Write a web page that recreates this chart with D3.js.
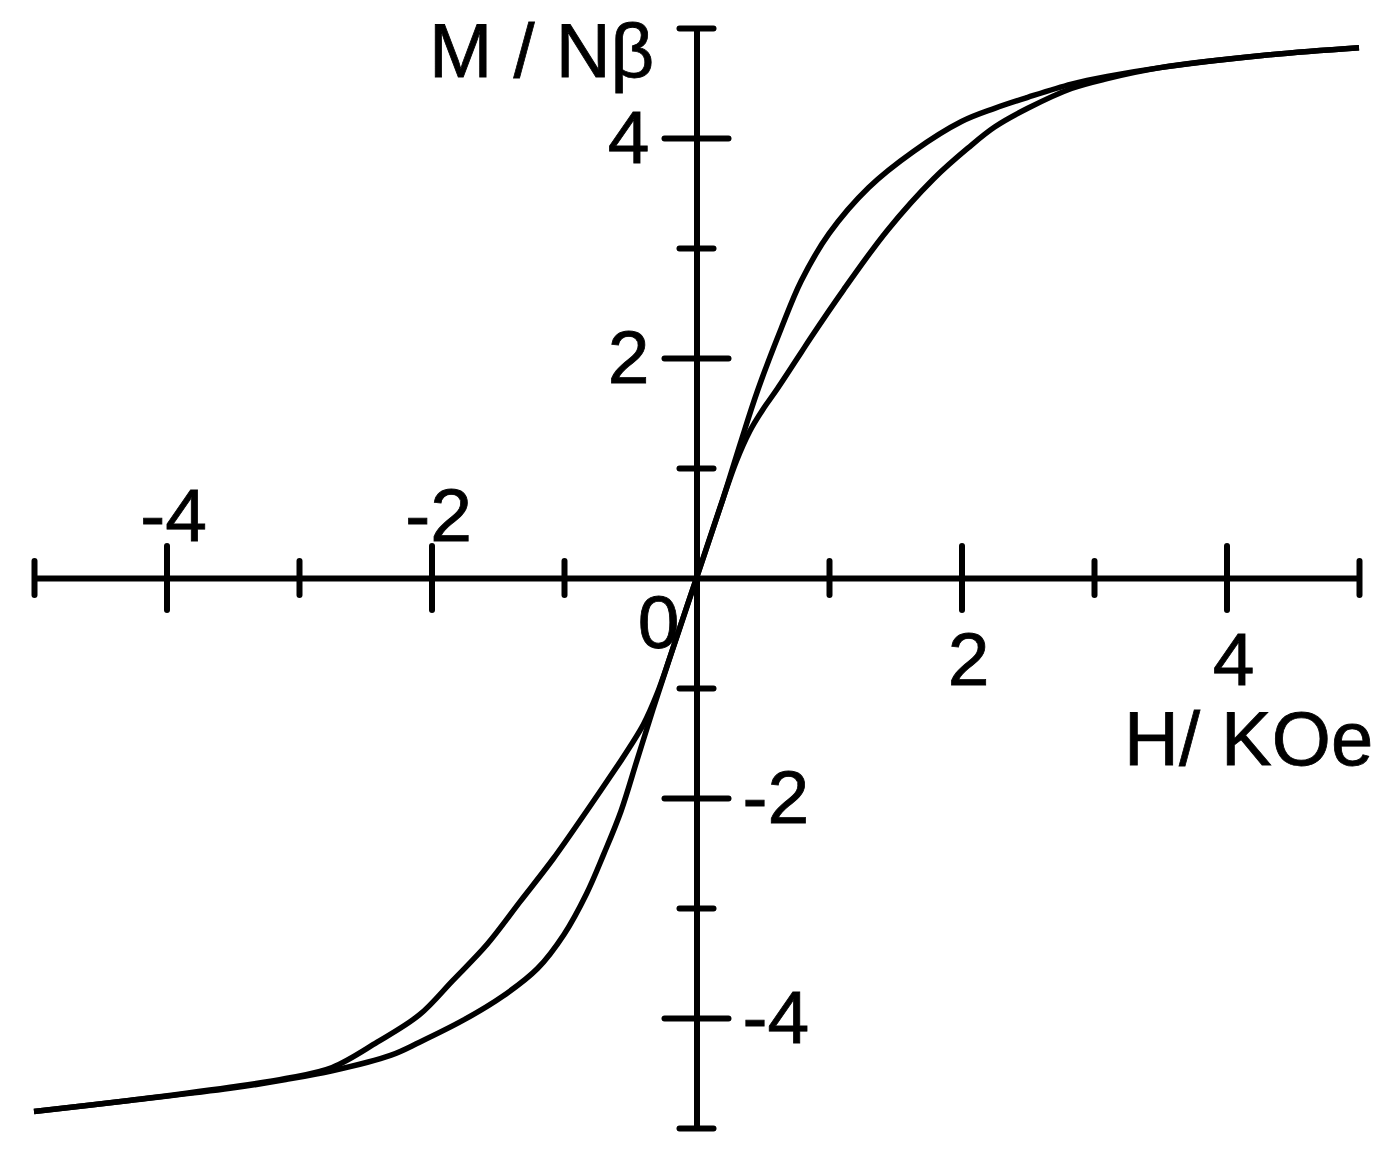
<!DOCTYPE html>
<html>
<head>
<meta charset="utf-8">
<script src="https://cdn.jsdelivr.net/npm/d3@7"></script>
<style>
  body { margin: 0; background: #fff; }
  text { font-family: "Liberation Sans", Arial, sans-serif; fill: #000; stroke: #000; stroke-width: 0.8; }
</style>
</head>
<body>
<div id="chart"></div>
<script>
// field H (kOe) and magnetisation M (N beta)
const steepH = [-5, -4.28, -3.52, -3.1, -2.75, -2.31, -2.09, -1.76, -1.46, -1.2, -1.0, -0.83, -0.7, -0.57, -0.45, -0.33, -0.2, 0,
                0.2, 0.33, 0.46, 0.64, 0.79, 1.0, 1.3, 1.64, 2.0, 2.25, 2.5, 2.83, 3.1, 3.5, 4.27, 5];
const steepM = [-4.85, -4.75, -4.64, -4.56, -4.48, -4.34, -4.22, -4.02, -3.8, -3.55, -3.24, -2.87, -2.51, -2.12, -1.66, -1.2, -0.72, 0,
                0.72, 1.22, 1.7, 2.27, 2.7, 3.13, 3.55, 3.88, 4.15, 4.27, 4.37, 4.49, 4.56, 4.64, 4.75, 4.82];

const softH = [-5, -4.28, -3.52, -3.1, -2.75, -2.41, -2.09, -1.84, -1.58, -1.33, -1.08, -0.83, -0.57, -0.5, -0.4, -0.3, -0.2, 0,
               0.2, 0.3, 0.4, 0.5, 0.61, 0.79, 0.86, 1.11, 1.44, 1.79, 2.05, 2.25, 2.5, 2.83, 3.1, 3.5, 4.27, 5];
const softM = [-4.85, -4.75, -4.63, -4.55, -4.45, -4.22, -3.97, -3.66, -3.33, -2.94, -2.55, -2.12, -1.66, -1.53, -1.33, -1.06, -0.72, 0,
               0.72, 1.06, 1.33, 1.53, 1.72, 2.05, 2.18, 2.62, 3.16, 3.63, 3.91, 4.1, 4.27, 4.45, 4.54, 4.64, 4.75, 4.82];

const xTicks = [-5, -4, -3, -2, -1, 1, 2, 3, 4, 5];
const yTicks = [-5, -4, -3, -2, -1, 1, 2, 3, 4, 5];
const xLabels = [-4, -2, 2, 4];
const yLabels = [4, 2, -2, -4];

const width = 1390, height = 1160;

const svg = d3.select("#chart")
  .append("svg")
  .attr("width", width)
  .attr("height", height);

const x = d3.scaleLinear().domain([-5, 5]).range([34, 1359]);
const y = d3.scaleLinear().domain([-5, 5]).range([1128, 28]);

const isMajor = v => v % 2 === 0;

// x axis
const xAxis = svg.append("g")
  .attr("transform", `translate(0, ${y(0)})`)
  .call(d3.axisBottom(x).tickValues(xTicks).tickSizeOuter(0).tickFormat(""));
xAxis.select(".domain").attr("stroke", "#000").attr("stroke-width", 6);
xAxis.selectAll(".tick line")
  .attr("stroke", "#000")
  .attr("stroke-width", 6)
  .attr("stroke-linecap", "round")
  .attr("y1", d => isMajor(d) ? -32 : -17)
  .attr("y2", d => isMajor(d) ? 32 : 17);

// y axis
const yAxis = svg.append("g")
  .attr("transform", `translate(${x(0)}, 0)`)
  .call(d3.axisLeft(y).tickValues(yTicks).tickSizeOuter(0).tickFormat(""));
yAxis.select(".domain").attr("stroke", "#000").attr("stroke-width", 6);
yAxis.selectAll(".tick line")
  .attr("stroke", "#000")
  .attr("stroke-width", 6)
  .attr("stroke-linecap", "round")
  .attr("x1", d => isMajor(d) ? -32 : -17)
  .attr("x2", d => isMajor(d) ? 32 : 17);

// tick labels
svg.selectAll(".xlab")
  .data(xLabels)
  .enter().append("text")
  .attr("class", "xlab")
  .attr("x", d => x(d) + 7)
  .attr("y", d => d < 0 ? y(0) - 37 : y(0) + 107)
  .attr("text-anchor", "middle")
  .attr("font-size", 75)
  .text(d => String(d));

svg.selectAll(".ylab")
  .data(yLabels)
  .enter().append("text")
  .attr("class", "ylab")
  .attr("x", d => d > 0 ? x(0) - 47 : x(0) + 46)
  .attr("y", d => y(d) + 25)
  .attr("text-anchor", d => d > 0 ? "end" : "start")
  .attr("font-size", 75)
  .text(d => String(d));

svg.append("text")
  .attr("x", x(0) - 17)
  .attr("y", y(0) + 70)
  .attr("text-anchor", "end")
  .attr("font-size", 75)
  .text("0");

// axis titles
svg.append("text")
  .attr("x", 429)
  .attr("y", 77)
  .attr("font-size", 76)
  .text("M / Nβ");

svg.append("text")
  .attr("x", 1124)
  .attr("y", 765)
  .attr("font-size", 76)
  .text("H/ KOe");

// curves
const line = d3.line()
  .x(d => x(d[0]))
  .y(d => y(d[1]))
  .curve(d3.curveCatmullRom.alpha(0.5));

const curves = [d3.zip(steepH, steepM), d3.zip(softH, softM)];

svg.selectAll(".curve")
  .data(curves)
  .enter().append("path")
  .attr("class", "curve")
  .attr("d", line)
  .attr("fill", "none")
  .attr("stroke", "#000")
  .attr("stroke-width", 5.5)
  .attr("stroke-linejoin", "round");
</script>
</body>
</html>
